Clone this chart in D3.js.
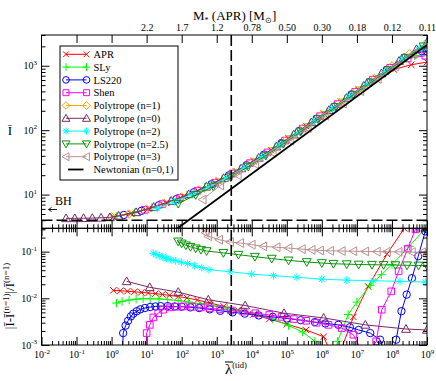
<!DOCTYPE html>
<html>
<head>
<meta charset="UTF-8">
<script src="https://cdn.jsdelivr.net/npm/d3@7"></script>
<style>
  body { margin: 0; background: #fff; }
</style>
</head>
<body>
<script>
// values; *Lg arrays hold log10 of lambda-bar
const names = ['APR', 'SLy', 'LS220', 'Shen', 'Polytrope (n=1)', 'Polytrope (n=0)',
               'Polytrope (n=2)', 'Polytrope (n=2.5)', 'Polytrope (n=3)', 'Newtonian (n=0,1)'];

// top panel: I-bar
const aprTopLg = [0.05,0.55,1.05,1.55,2.05,2.55,3.05,3.55,4.05,4.55,5.05,5.55,6.05,6.55,7.05,7.55,8.05,8.55,9];
const aprTopI  = [4.54,5.08,6.03,7.46,9.35,12.1,16.3,22.8,33.2,49.0,75.0,116,180,277,429,644,876,1035,1140];
const slyTopLg = [0.15,0.65,1.15,1.65,2.15,2.65,3.15,3.65,4.15,4.65,5.15,5.65,6.15,6.65,7.15,7.65,8.15,8.65,9];
const slyTopI  = [4.63,5.23,6.28,7.80,9.86,12.9,17.5,24.6,35.8,53.3,81.7,126,195,303,468,702,1051,1424,1480];
const lsTopLg  = [0.35,0.85,1.35,1.85,2.35,2.85,3.35,3.85,4.35,4.85,5.35,5.85,6.35,6.85,7.35,7.85,8.35,8.85,9];
const lsTopI   = [4.83,5.60,6.84,8.51,10.9,14.5,19.9,28.6,41.8,63.2,97.1,151,232,360,557,863,1338,1690,1670];
const shenTopLg = [0.95,1.45,1.95,2.45,2.95,3.45,3.95,4.45,4.95,5.45,5.95,6.45,6.95,7.45,7.95,8.45,8.95];
const shenTopI  = [5.80,7.14,8.89,11.5,15.3,21.3,30.8,45.2,68.9,106,165,254,393,608,930,1296,1425];
const n1TopLg = [0,0.5,1,1.5,2,2.5,3,3.5,4,4.5,5,5.5,6,6.5,7,7.5,8,8.5,9];
const n1TopI  = [4.50,5.00,5.90,7.30,9.10,11.8,15.8,22.0,32.0,47.0,72,111,172,265,410,635,985,1530,2280];
const n0TopLg = [-1.3,-1.05,-0.8,-0.55,-0.3,-0.05,0.2,0.7,1.2,1.7,2.2,2.7,3.2,3.7,4.2,4.7,5.2,5.7,6.2,6.7,7.2,7.7,8.2,8.7,9];
const n0TopI  = [4.28,4.28,4.30,4.32,4.36,4.44,4.68,5.31,6.41,7.96,10.1,13.2,18.0,25.5,37.2,55.6,85.3,132,204,316,489,757,1183,1799,2280];
const n2TopLg = [1.3,1.8,2.3,2.8,3.3,3.8,4.3,4.8,5.3,5.8,6.3,6.8,7.3,7.8,8.3,8.8,9];
const n2TopI  = [6.11,7.80,10.1,13.4,18.5,26.6,38.9,58.7,90.2,140,217,337,520,807,1261,1902,2230];
const n25TopLg = [1.9,2.4,2.9,3.4,3.9,4.4,4.9,5.4,5.9,6.4,6.9,7.4,7.9,8.4,8.9];
const n25TopI  = [7.26,9.88,13.4,18.7,27.2,40.3,61.6,95.6,149,230,356,552,855,1334,2003];
const n3TopLg = [2.6,3.1,3.6,4.1,4.6,5.1,5.6,6.1,6.6,7.1,7.6,8.1,8.6,9];
const n3TopI  = [8.38,13.9,20.0,29.8,44.7,69.1,108,168,259,403,624,972,1497,2059];
const newtLam = [70, 1e9];
const newtI   = [2.9, 2100];

// bottom panel: |I - I(n=1)| / I(n=1)
const aprBotLg = [0.05,0.25,0.45,0.65,0.85,1.05,1.25,1.45,1.65,1.9,2.15,2.45,2.8,3.2,3.6,4.05,4.5,5.0,5.55,6.05,6.4,6.9,7.32,7.86,8.35,8.7,9.0];
const aprBotD  = [0.0148,0.0145,0.0142,0.0138,0.0134,0.0130,0.0126,0.0121,0.0116,0.0109,0.0102,0.0092,0.0080,0.0067,0.0056,0.0045,0.0036,0.0028,0.0021,0.0015,0.0004,0.0040,0.018,0.089,0.316,0.42,0.5];
const slyBotLg = [0.14,0.3,0.5,0.7,0.9,1.1,1.35,1.6,1.9,2.2,2.55,2.9,3.3,3.7,4.15,4.6,5.05,5.45,5.8,6.2,6.45,6.75,7.0,7.38,7.7,8.0,8.5,9.0];
const slyBotD  = [0.0079,0.0086,0.0092,0.0096,0.0098,0.0098,0.0097,0.0094,0.0089,0.0083,0.0076,0.0069,0.0062,0.0054,0.0046,0.0036,0.0026,0.0019,0.0012,0.0002,0.0012,0.0045,0.0083,0.019,0.032,0.053,0.13,0.35];
const lsBotLg = [0.29,0.33,0.40,0.47,0.55,0.62,0.72,0.82,0.95,1.1,1.25,1.4,1.6,1.8,2.0,2.25,2.5,2.8,3.1,3.45,3.8,4.2,4.6,5.0,5.4,5.8,6.1,6.47,6.8,7.05,7.38,7.66,7.92,8.12,8.27,8.42,8.57,8.75,8.95,9.0];
const lsBotD  = [0.0002,0.0018,0.0026,0.0033,0.0041,0.0047,0.0053,0.0058,0.0062,0.0065,0.0067,0.0068,0.0068,0.0067,0.0066,0.0064,0.0062,0.0058,0.0054,0.0050,0.0047,0.0043,0.0040,0.0037,0.0034,0.0031,0.0029,0.0027,0.0024,0.0021,0.0018,0.0013,0.0003,0.0013,0.0053,0.012,0.027,0.08,0.272,0.3];
const shenBotLg = [0.95,1.0,1.09,1.19,1.33,1.47,1.67,1.85,2.05,2.3,2.55,2.8,3.1,3.4,3.75,4.1,4.5,4.85,5.2,5.55,5.85,6.19,6.57,6.9,7.25,7.55,7.71,7.98,8.19,8.45,8.67,9.0];
const shenBotD  = [0.0002,0.0018,0.0027,0.0039,0.0048,0.0057,0.0064,0.0066,0.0067,0.0066,0.0064,0.0061,0.0058,0.0055,0.0052,0.0048,0.0044,0.0040,0.0036,0.0033,0.0030,0.0027,0.0023,0.00166,0.0005,0.0012,0.0057,0.0141,0.0379,0.116,0.30,0.36];
const n0BotLg = [0.43,1.09,1.9,2.76,3.81,4.92,6.05,7.24,8.4,9.0];
const n0BotD  = [0.0231,0.0172,0.0136,0.0093,0.0070,0.0048,0.0038,0.0027,0.0022,0.0021];
const n2BotLg = [1.19,1.27,1.36,1.46,1.57,1.69,1.83,1.99,2.17,2.37,2.57,2.78,3.38,4.0,4.62,5.29,6.0,6.71,7.47,8.23,8.95];
const n2BotD  = [0.092,0.087,0.082,0.077,0.072,0.0675,0.0635,0.0595,0.0555,0.050,0.0455,0.041,0.0371,0.0331,0.0305,0.0282,0.0257,0.0245,0.0238,0.0231,0.0223];
const n25BotLg = [1.9,2.0,2.12,2.25,2.4,2.55,2.71,3.19,3.62,4.09,4.57,5.05,5.57,6.0,6.33,6.71,7.05,7.43,7.76,8.1,8.43,8.76,9.0];
const n25BotD  = [0.166,0.150,0.137,0.127,0.118,0.110,0.103,0.094,0.086,0.078,0.071,0.065,0.060,0.057,0.055,0.054,0.053,0.0525,0.052,0.0515,0.051,0.0505,0.0503];
const n3BotLg = [2.6,2.68,2.76,3.07,3.38,3.67,4.0,4.33,4.71,5.05,5.43,5.71,5.95,6.24,6.57,6.9,7.24,7.57,7.86,8.19,8.57,8.86,9.0];
const n3BotD  = [0.33,0.255,0.213,0.18,0.161,0.153,0.141,0.130,0.124,0.119,0.113,0.109,0.106,0.104,0.103,0.102,0.101,0.100,0.0995,0.099,0.0975,0.0967,0.0965];

// axes
const xExps = [-2,-1,0,1,2,3,4,5,6,7,8,9];
const topYExps = [1,2,3];
const botYExps = [-3,-2,-1];
const massTickExps = [-1,0,1,2,3,4,5,6,7,8,9];
const massTickLabels = ['','','2.2','1.7','1.2','0.78','0.50','0.30','0.18','0.12','0.11'];
const bhValue = 4;
const dashLam = 2.6e3;

const W = 436, H = 381;
const SERIF = '"Liberation Serif", "Times New Roman", serif';
const left = 41.5, right = 427, topY = 35, midY = 228.3, botY = 345;

const svg = d3.select('body').append('svg')
  .attr('width', W).attr('height', H)
  .attr('font-family', SERIF);

const x  = d3.scaleLog().domain([1e-2, 1e9]).range([left, right]);
const yT = d3.scaleLog().domain([3, 3000]).range([midY, topY]);
const yB = d3.scaleLog().domain([1e-3, 0.316]).range([botY, midY]);

const defs = svg.append('defs');
defs.append('clipPath').attr('id', 'clipT').append('rect')
  .attr('x', left).attr('y', topY).attr('width', right - left).attr('height', midY - topY);
defs.append('clipPath').attr('id', 'clipB').append('rect')
  .attr('x', left).attr('y', midY).attr('width', right - left).attr('height', botY - midY);

function glyph(type, r) {
  switch (type) {
    case 'x': return `M${-r},${-r}L${r},${r}M${-r},${r}L${r},${-r}`;
    case 'plus': { const q = r * 1.25; return `M${-q},0L${q},0M0,${-q}L0,${q}`; }
    case 'circle': return `M${r},0A${r},${r} 0 1,1 ${-r},0A${r},${r} 0 1,1 ${r},0Z`;
    case 'square': return `M${-r},${-r}H${r}V${r}H${-r}Z`;
    case 'diamond': { const q = r * 1.3; return `M0,${-q}L${q},0L0,${q}L${-q},0Z`; }
    case 'triUp': { const q = r * 1.3; return `M0,${-q}L${q},${q * 0.75}L${-q},${q * 0.75}Z`; }
    case 'triDown': { const q = r * 1.3; return `M0,${q}L${q},${-q * 0.75}L${-q},${-q * 0.75}Z`; }
    case 'triLeft': { const q = r * 1.3; return `M${-q},0L${q * 0.75},${-q}L${q * 0.75},${q}Z`; }
    case 'star': { const q = r * 1.2, d = r * 0.85;
      return `M${-q},0L${q},0M0,${-q}L0,${q}M${-d},${-d}L${d},${d}M${-d},${d}L${d},${-d}`; }
  }
}

const series = [
  { color: '#ff0000', sym: 'x',       r: 3.2, top: [aprTopLg, aprTopI],   bot: [aprBotLg, aprBotD] },
  { color: '#00ff00', sym: 'plus',    r: 3.4, top: [slyTopLg, slyTopI],   bot: [slyBotLg, slyBotD] },
  { color: '#0000ff', sym: 'circle',  r: 3.7, top: [lsTopLg, lsTopI],     bot: [lsBotLg, lsBotD] },
  { color: '#ff00ff', sym: 'square',  r: 3.3, top: [shenTopLg, shenTopI], bot: [shenBotLg, shenBotD] },
  { color: '#ffa500', sym: 'diamond', r: 3.3, top: [n1TopLg, n1TopI],     bot: null },
  { color: '#7a2a66', sym: 'triUp',   r: 3.4, top: [n0TopLg, n0TopI],     bot: [n0BotLg, n0BotD] },
  { color: '#00ffff', sym: 'star',    r: 3.3, top: [n2TopLg, n2TopI],     bot: [n2BotLg, n2BotD] },
  { color: '#0a940a', sym: 'triDown', r: 3.4, top: [n25TopLg, n25TopI],   bot: [n25BotLg, n25BotD] },
  { color: '#bc8f8f', sym: 'triLeft', r: 3.4, top: [n3TopLg, n3TopI],     bot: [n3BotLg, n3BotD] }
];

const gTop = svg.append('g').attr('clip-path', 'url(#clipT)');
const gBot = svg.append('g').attr('clip-path', 'url(#clipB)');

function drawSeries(g, cols, ys, s) {
  const pts = d3.zip(cols[0], cols[1]);
  g.append('path').datum(pts)
    .attr('fill', 'none').attr('stroke', s.color).attr('stroke-width', 1)
    .attr('d', d3.line().x(d => x(10 ** d[0])).y(d => ys(d[1])));
  g.selectAll(null).data(pts).join('path')
    .attr('transform', d => `translate(${x(10 ** d[0])},${ys(d[1])})`)
    .attr('d', glyph(s.sym, s.r))
    .attr('fill', 'none').attr('stroke', s.color).attr('stroke-width', 1);
}

series.forEach(s => {
  drawSeries(gTop, s.top, yT, s);
  if (s.bot) drawSeries(gBot, s.bot, yB, s);
});

// Newtonian line
gTop.append('path').datum(d3.zip(newtLam, newtI))
  .attr('fill', 'none').attr('stroke', '#000').attr('stroke-width', 1.8)
  .attr('d', d3.line().x(d => x(d[0])).y(d => yT(d[1])));

// dashed references
svg.append('line')
  .attr('x1', left).attr('x2', right).attr('y1', yT(bhValue)).attr('y2', yT(bhValue))
  .attr('stroke', '#000').attr('stroke-width', 1.6).attr('stroke-dasharray', '11,4');
svg.append('line')
  .attr('x1', x(dashLam)).attr('x2', x(dashLam)).attr('y1', topY).attr('y2', botY)
  .attr('stroke', '#000').attr('stroke-width', 1.6).attr('stroke-dasharray', '11,4');

// BH label with arrow
svg.append('text').attr('x', 55).attr('y', 205).attr('font-size', 12).text('BH');
svg.append('path').attr('d', 'M57,209.5H48.5M48.5,209.5l3,-2M48.5,209.5l3,2')
  .attr('stroke', '#000').attr('stroke-width', 0.9).attr('fill', 'none');

// axes
function pow10list(exps) { return exps.map(e => 10 ** e); }
function minorList(dom) {
  const out = [];
  for (let e = -4; e <= 9; e++) for (let m = 2; m <= 9; m++) {
    const v = m * 10 ** e;
    if (v >= dom[0] * 0.999 && v <= dom[1] * 1.001) out.push(v);
  }
  return out;
}
function axisLayer(gen, tr) {
  const g = svg.append('g').attr('transform', tr).call(gen);
  g.select('.domain').remove();
  g.attr('font-family', SERIF).attr('font-size', 10);
  g.selectAll('.tick line').attr('stroke-width', 1);
  return g;
}
function supText(sel, base, exp) {
  sel.text(null);
  sel.append('tspan').text(base);
  sel.append('tspan').attr('font-size', 7).attr('dy', -4.5).text(exp);
}

const xMinor = minorList([1e-2, 1e9]);
const yTMinor = minorList([3, 3000]);
const yBMinor = minorList([1e-3, 0.316]);

// bottom axis of lower panel
axisLayer(d3.axisBottom(x).tickValues(xMinor).tickSizeInner(-4).tickSizeOuter(0).tickFormat(''), `translate(0,${botY})`);
axisLayer(d3.axisBottom(x).tickValues(pow10list(xExps)).tickSizeInner(-8).tickSizeOuter(0).tickPadding(6), `translate(0,${botY})`)
  .selectAll('.tick text').each(function(d, i) { supText(d3.select(this), '10', String(xExps[i])); });

// shared middle line: ticks up into top panel and down into bottom panel
axisLayer(d3.axisBottom(x).tickValues(xMinor).tickSizeInner(-4).tickSizeOuter(0).tickFormat(''), `translate(0,${midY})`);
axisLayer(d3.axisBottom(x).tickValues(pow10list(xExps)).tickSizeInner(-8).tickSizeOuter(0).tickFormat(''), `translate(0,${midY})`);
axisLayer(d3.axisTop(x).tickValues(xMinor).tickSizeInner(-4).tickSizeOuter(0).tickFormat(''), `translate(0,${midY})`);
axisLayer(d3.axisTop(x).tickValues(pow10list(xExps)).tickSizeInner(-8).tickSizeOuter(0).tickFormat(''), `translate(0,${midY})`);

// top mass axis
axisLayer(d3.axisTop(x).tickValues(pow10list(massTickExps)).tickSizeInner(-8).tickSizeOuter(0).tickPadding(4)
  .tickFormat((d, i) => massTickLabels[i]), `translate(0,${topY})`);

// y axes top panel
axisLayer(d3.axisLeft(yT).tickValues(yTMinor).tickSizeInner(-4).tickSizeOuter(0).tickFormat(''), `translate(${left},0)`);
axisLayer(d3.axisLeft(yT).tickValues(pow10list(topYExps)).tickSizeInner(-8).tickSizeOuter(0).tickPadding(4.5), `translate(${left},0)`)
  .selectAll('.tick text').each(function(d, i) { supText(d3.select(this), '10', String(topYExps[i])); });
axisLayer(d3.axisRight(yT).tickValues(yTMinor).tickSizeInner(-4).tickSizeOuter(0).tickFormat(''), `translate(${right},0)`);
axisLayer(d3.axisRight(yT).tickValues(pow10list(topYExps)).tickSizeInner(-8).tickSizeOuter(0).tickFormat(''), `translate(${right},0)`);

// y axes bottom panel
axisLayer(d3.axisLeft(yB).tickValues(yBMinor).tickSizeInner(-4).tickSizeOuter(0).tickFormat(''), `translate(${left},0)`);
axisLayer(d3.axisLeft(yB).tickValues(pow10list(botYExps)).tickSizeInner(-8).tickSizeOuter(0).tickPadding(4.5), `translate(${left},0)`)
  .selectAll('.tick text').each(function(d, i) { supText(d3.select(this), '10', String(botYExps[i])); });
axisLayer(d3.axisRight(yB).tickValues(yBMinor).tickSizeInner(-4).tickSizeOuter(0).tickFormat(''), `translate(${right},0)`);
axisLayer(d3.axisRight(yB).tickValues(pow10list(botYExps)).tickSizeInner(-8).tickSizeOuter(0).tickFormat(''), `translate(${right},0)`);

// frames
svg.append('rect').attr('x', left).attr('y', topY).attr('width', right - left).attr('height', midY - topY)
  .attr('fill', 'none').attr('stroke', '#000').attr('stroke-width', 1);
svg.append('rect').attr('x', left).attr('y', midY).attr('width', right - left).attr('height', botY - midY)
  .attr('fill', 'none').attr('stroke', '#000').attr('stroke-width', 1);

// legend
const lg = svg.append('g');
lg.append('rect').attr('x', 60).attr('y', 46).attr('width', 118).attr('height', 134)
  .attr('fill', '#fff').attr('stroke', '#000').attr('stroke-width', 1);
names.forEach((n, i) => {
  const yy = 54.3 + 12.8 * i;
  const s = series[i];
  if (s) {
    lg.append('line').attr('x1', 66).attr('x2', 86.5).attr('y1', yy).attr('y2', yy)
      .attr('stroke', s.color).attr('stroke-width', 1);
    [66, 86.5].forEach(px => lg.append('path')
      .attr('transform', `translate(${px},${yy})`).attr('d', glyph(s.sym, s.r * 0.9))
      .attr('fill', 'none').attr('stroke', s.color).attr('stroke-width', 1));
  } else {
    lg.append('line').attr('x1', 68).attr('x2', 83.5).attr('y1', yy).attr('y2', yy)
      .attr('stroke', '#000').attr('stroke-width', 1.8);
  }
  lg.append('text').attr('x', 93.5).attr('y', yy + 3.6).attr('font-size', 10.5).text(n);
});

// axis titles
svg.append('text').attr('x', 10).attr('y', 135).attr('font-size', 13)
  .attr('text-anchor', 'middle').text('\u012A');

const yl = svg.append('text').attr('transform', 'translate(14,296) rotate(-90)')
  .attr('text-anchor', 'middle').attr('font-size', 13);
yl.append('tspan').text('|\u012A-\u012A');
yl.append('tspan').attr('font-size', 9).attr('dy', -5).text('(n=1)');
yl.append('tspan').attr('dy', 5).text('|/\u012A');
yl.append('tspan').attr('font-size', 9).attr('dy', -5).text('(n=1)');

const xl = svg.append('text').attr('x', 225).attr('y', 374).attr('font-size', 15);
xl.append('tspan').text('\u03BB');
xl.append('tspan').attr('font-size', 8.5).attr('dy', -6.5).text('(tid)');
svg.append('line').attr('x1', 225).attr('x2', 233).attr('y1', 362).attr('y2', 362)
  .attr('stroke', '#000').attr('stroke-width', 1);

const tl = svg.append('text').attr('x', 193).attr('y', 20).attr('font-size', 13);
tl.append('tspan').text('M');
tl.append('tspan').attr('font-size', 8).attr('dy', 3).text('*');
tl.append('tspan').attr('dy', -3).text(' (APR) [M');
tl.append('tspan').attr('font-size', 8).attr('dy', 3).text('\u2299');
tl.append('tspan').attr('dy', -3).text(']');
</script>
</body>
</html>
